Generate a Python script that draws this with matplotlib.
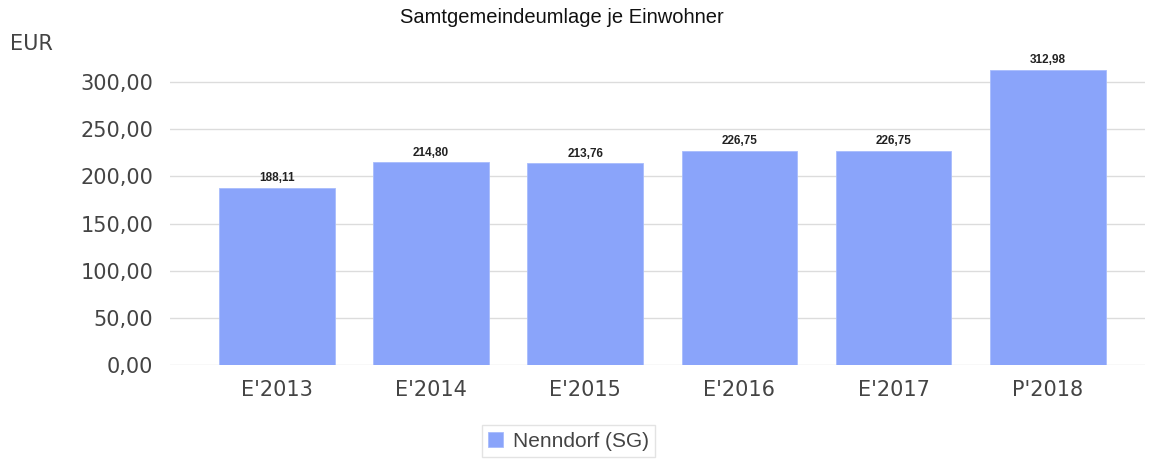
import matplotlib
matplotlib.use("Agg")
import matplotlib.pyplot as plt
from matplotlib.ticker import FuncFormatter

categories = ["E'2013", "E'2014", "E'2015", "E'2016", "E'2017", "P'2018"]
values = [188.11, 214.80, 213.76, 226.75, 226.75, 312.98]
yticks = [0, 50, 100, 150, 200, 250, 300]
series_name = "Nenndorf (SG)"
title = "Samtgemeindeumlage je Einwohner"
unit = "EUR"

def de(v):
    return f"{v:.2f}".replace(".", ",")

ARIAL = ["Liberation Sans", "DejaVu Sans"]

fig = plt.figure(figsize=(11.53, 4.61), dpi=100)
ax = fig.add_axes([0.1474, 0.2082, 0.8456, 0.675])
x = list(range(len(categories)))
ax.bar(x, values, width=0.75, color="#8aa4fa", edgecolor="#a8bcfc", linewidth=0.6,
       label=series_name, zorder=2)
for xi, v in zip(x, values):
    ax.text(xi, v + 4, de(v), ha="center", va="bottom", fontsize=8.5, fontweight="bold",
            color="#222222", family=ARIAL)

ax.set_xlim(-0.694, 5.63)
ax.set_ylim(0, 330)
ax.set_yticks(yticks)
ax.yaxis.set_major_formatter(FuncFormatter(lambda v, p: de(v)))
ax.set_xticks(x)
ax.set_xticklabels(categories)
ax.tick_params(axis="both", length=0, labelsize=15, labelcolor="#444444")
ax.tick_params(axis="y", pad=12)
ax.tick_params(axis="x", pad=11)
ax.grid(axis="y", color="#dcdcdc", linewidth=1.0, zorder=0)
for s in ax.spines.values():
    s.set_visible(False)

fig.text(0.487, 0.961, title, ha="center", va="center", fontsize=14.5, color="#111111", family=ARIAL)
fig.text(0.009, 0.905, unit, ha="left", va="center", fontsize=15, color="#444444")

leg = fig.legend(loc="center", bbox_to_anchor=(0.493, 0.043), frameon=True,
                 prop={"family": ARIAL, "size": 15},
                 fancybox=False, edgecolor="#dddddd", handlelength=0.7, handleheight=0.7,
                 handletextpad=0.5, borderpad=0.3)
for t in leg.get_texts():
    t.set_color("#444444")

fig.savefig("out.png", dpi=100, facecolor="white")
